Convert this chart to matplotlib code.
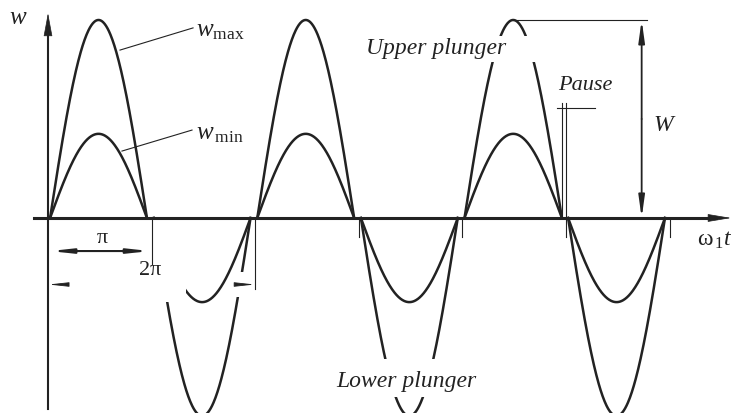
import matplotlib.pyplot as plt
import numpy as np
from matplotlib.patches import Rectangle, FancyArrowPatch

plt.rcParams['font.family'] = 'Liberation Serif'
plt.rcParams['mathtext.fontset'] = 'custom'
plt.rcParams['mathtext.rm'] = 'Liberation Serif'
plt.rcParams['mathtext.it'] = 'Liberation Serif:italic'

# Phasenlage der Halbwellen (in Einheiten von pi)
upper_start = [0.02, 2.02, 4.02]
upper_end = [0.955, 2.955, 4.96]
lower_start = [1.02, 3.02, 5.02]
lower_end = [1.955, 3.955, 5.955]

# Amplituden, bezogen auf w_max
w_max = 1.0
w_min = 0.425

tick_pos = [1, 2, 3, 4, 5, 6]
pause_pos = [4.96, 5.0]

ink = '#222222'


def half_wave(x0, x1, amp, n=200):
    th = np.linspace(0, np.pi, n)
    return x0 + (x1 - x0) * th / np.pi, amp * np.sin(th)


def arrow(ax, p0, p1, style='-|>', lw=1.0, hl=1.6, hw=0.3, z=4):
    a = FancyArrowPatch(p0, p1, arrowstyle=f'{style},head_length={hl},head_width={hw}',
                        mutation_scale=10, color=ink, lw=lw, shrinkA=0, shrinkB=0, zorder=z)
    ax.add_patch(a)


fig = plt.figure(figsize=(7.32, 4.14), dpi=100)
ax = fig.add_axes([0, 0, 1, 1])
ax.set_xlim(-0.4633, 6.602)
ax.set_ylim(-0.985, 1.106)
ax.axis('off')

# Kurven
for x0, x1 in zip(upper_start, upper_end):
    for amp in (w_max, w_min):
        x, y = half_wave(x0, x1, amp)
        ax.plot(x, y, color=ink, lw=1.8, zorder=1)
for x0, x1 in zip(lower_start, lower_end):
    for amp in (w_max, w_min):
        x, y = half_wave(x0, x1, -amp)
        ax.plot(x, y, color=ink, lw=1.8, zorder=1)

# Freistellungen (weisse Flaechen hinter Beschriftungen)
for (x0, y0, w, h) in [(0.985, -0.424, 0.347, 0.412),
                       (1.815, -0.399, 0.125, 0.126),
                       (3.01, 0.788, 1.79, 0.131),
                       (2.72, -0.904, 1.47, 0.192)]:
    ax.add_patch(Rectangle((x0, y0), w, h, facecolor='white', edgecolor='none', zorder=2))

# Achsen
ax.plot([-0.135, 6.45], [0, 0], color=ink, lw=2.2, zorder=3)
arrow(ax, (6.4, 0), (6.593, 0), lw=0.5, hl=1.5, hw=0.25)
ax.plot([0, 0], [-0.967, 0.95], color=ink, lw=1.5, zorder=3)
arrow(ax, (0, 0.9), (0, 1.035), lw=0.5, hl=1.5, hw=0.28)

# Teilstriche
for t in tick_pos:
    low = {1: -0.232, 2: -0.359}.get(t, -0.096)
    ax.plot([t, t], [0, low], color=ink, lw=0.8, zorder=3)

# pi und 2pi Bemassung
arrow(ax, (0.02, -0.167), (0.985, -0.167), style='<|-|>', lw=1.5, hl=1.2, hw=0.13)
ax.text(0.52, -0.1, 'π', fontsize=16, ha='center', va='center', color=ink)
arrow(ax, (0.17, -0.336), (0.005, -0.336), lw=0.6, hl=1.2, hw=0.13)
arrow(ax, (1.83, -0.336), (1.995, -0.336), lw=0.6, hl=1.2, hw=0.13)
ax.text(0.985, -0.262, '2π', fontsize=16, ha='center', va='center', color=ink, zorder=4)

# Pause
for p in pause_pos:
    ax.plot([p, p], [0, 0.581], color=ink, lw=0.8, zorder=3)
ax.plot([4.913, 5.28], [0.556, 0.556], color=ink, lw=0.8, zorder=3)
ax.text(5.19, 0.672, 'Pause', fontsize=16, style='italic', ha='center', va='center', color=ink)

# Hub W
ax.plot([4.49, 5.78], [w_max, w_max], color=ink, lw=0.8, zorder=3)
arrow(ax, (5.73, 0.5), (5.73, w_max), lw=1.3, hl=1.3, hw=0.18)
arrow(ax, (5.73, 0.5), (5.73, 0.0), lw=1.3, hl=1.3, hw=0.18)
ax.text(5.94, 0.47, 'W', fontsize=17, style='italic', ha='center', va='center', color=ink)

# Beschriftungen
ax.text(-0.29, 1.015, 'w', fontsize=18, style='italic', ha='center', va='center', color=ink)
ax.text(1.43, 0.95, r'$w_{\mathrm{max}}$', fontsize=18, ha='left', va='center', color=ink)
ax.plot([0.695, 1.40], [0.848, 0.96], color=ink, lw=0.8)
ax.text(1.43, 0.43, r'$w_{\,\mathrm{min}}$', fontsize=18, ha='left', va='center', color=ink)
ax.plot([0.714, 1.39], [0.338, 0.444], color=ink, lw=0.8)
ax.text(3.745, 0.86, 'Upper plunger', fontsize=17, style='italic', ha='center', va='center',
        color=ink, zorder=4)
ax.text(3.456, -0.823, 'Lower plunger', fontsize=17, style='italic', ha='center', va='center',
        color=ink, zorder=4)
ax.text(6.26, -0.106, r'$\mathrm{\omega}_{\,1} t$', fontsize=17, ha='left', va='center', color=ink)

fig.savefig('out.png', dpi=100)
